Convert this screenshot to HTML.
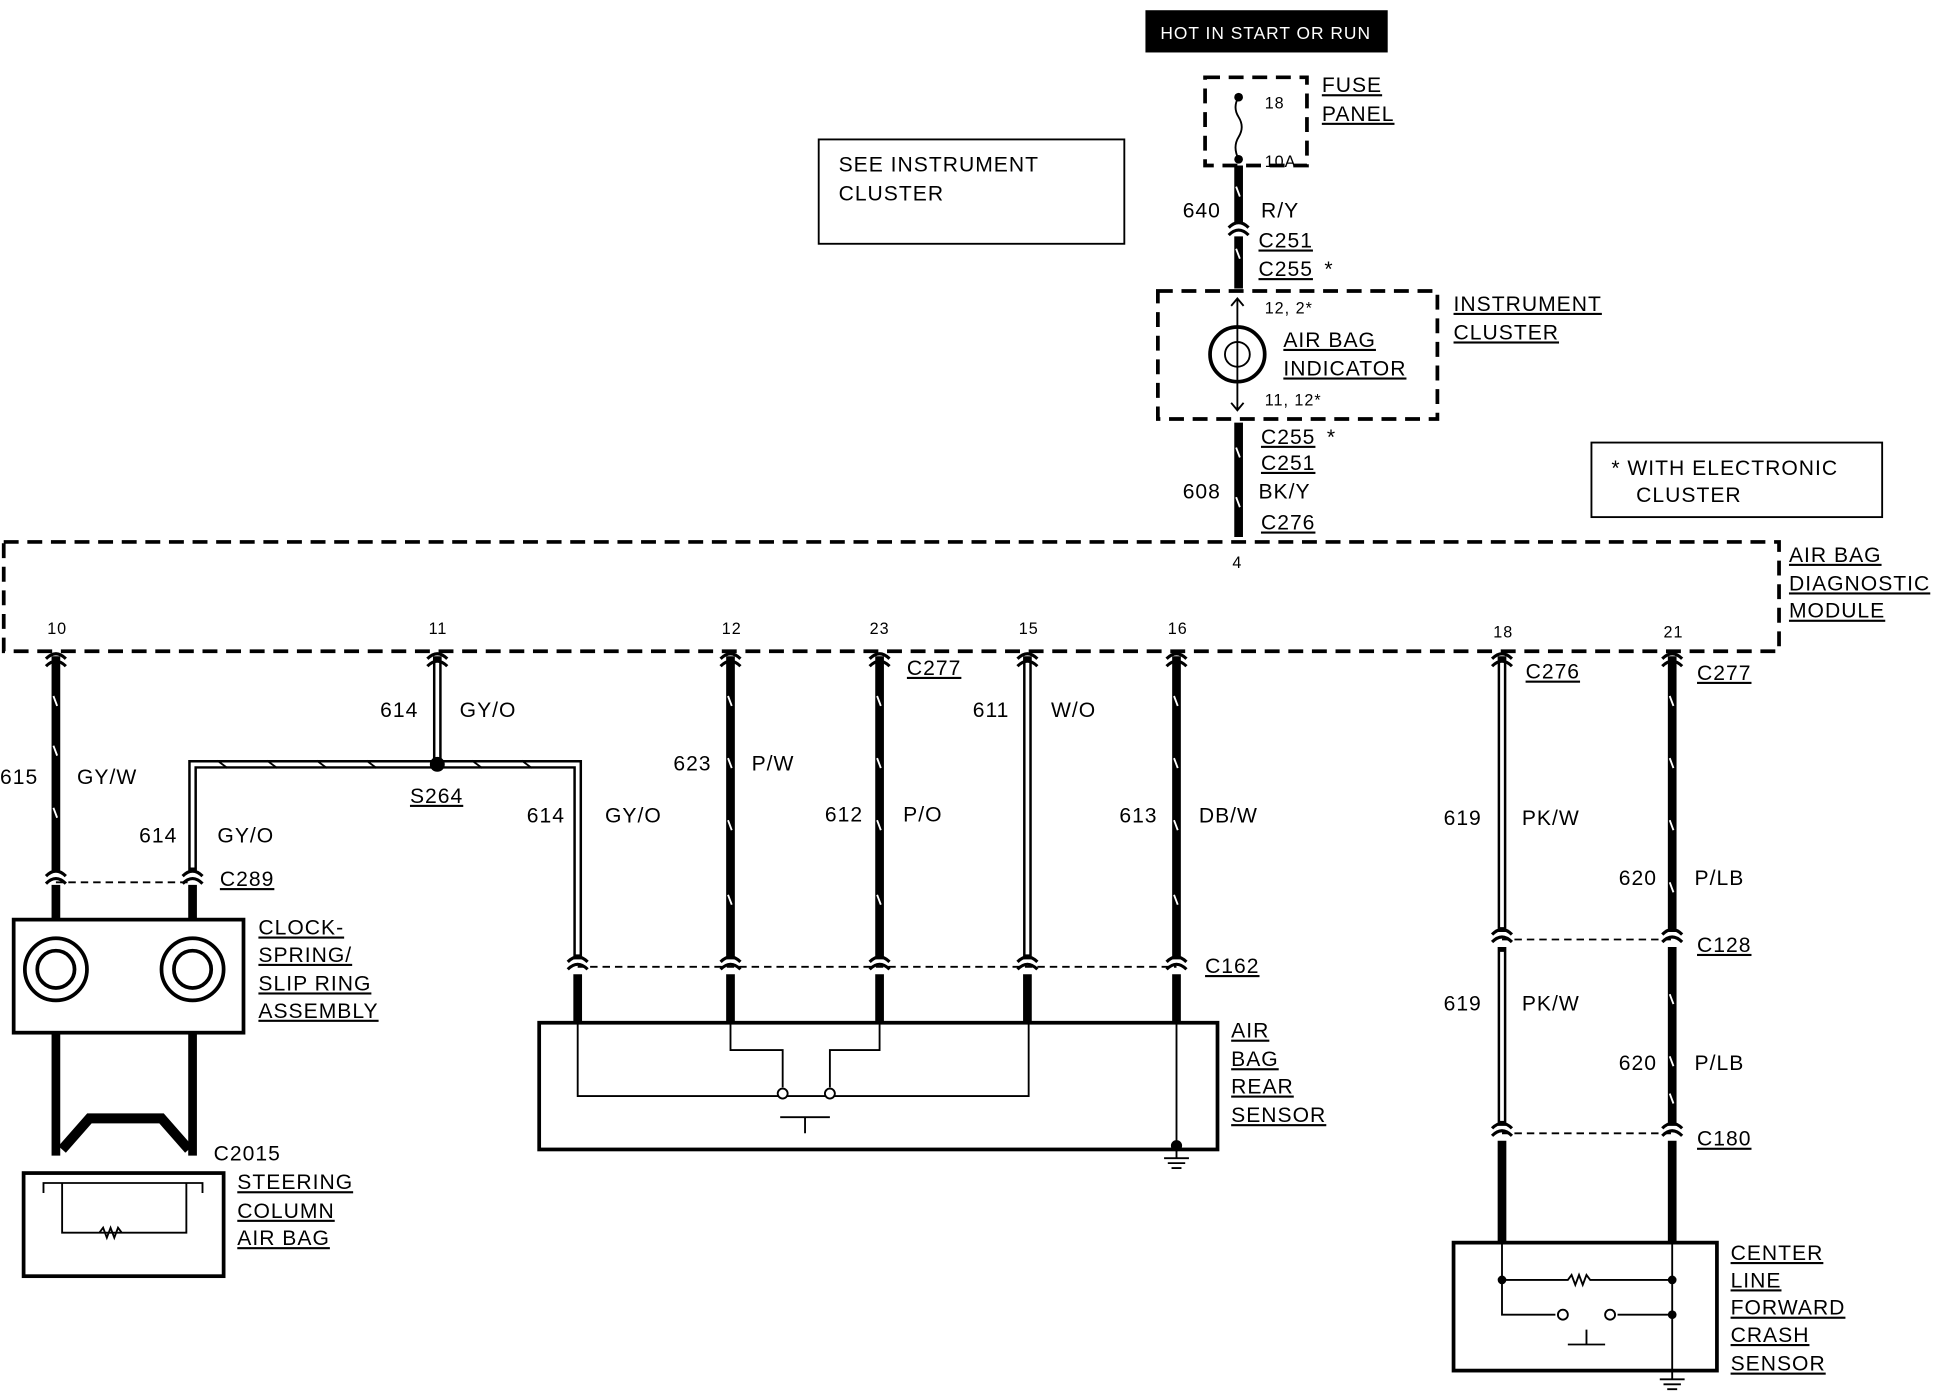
<!DOCTYPE html>
<html><head><meta charset="utf-8"><style>
html,body{margin:0;padding:0;background:#fff;}
svg{display:block;}
text{font-family:"Liberation Sans",sans-serif;font-size:17px;fill:#000;letter-spacing:0.8px;}
.s{font-size:13px;}
.u{text-decoration:underline;}
</style></head><body>
<svg width="1948" height="1392" viewBox="0 0 1568 1120" xmlns="http://www.w3.org/2000/svg">
<defs>
<g id="cx"><path d="M-8,0 Q0,-8 8,0" fill="none" stroke="#000" stroke-width="2.5"/><path d="M-8,6 Q0,-2 8,6" fill="none" stroke="#000" stroke-width="2.5"/></g>
</defs>
<g fill="none" stroke="#000">
<g stroke-width="7">
<line x1="997" y1="133" x2="997" y2="180"/><line x1="997" y1="190" x2="997" y2="232"/>
<line x1="997" y1="340" x2="997" y2="432"/>
<line x1="45" y1="528" x2="45" y2="702"/><line x1="45" y1="712" x2="45" y2="740"/>
<line x1="45" y1="831" x2="45" y2="930"/><line x1="155" y1="831" x2="155" y2="930"/>
<line x1="155" y1="712" x2="155" y2="740"/>
<line x1="588" y1="528" x2="588" y2="772"/><line x1="708" y1="528" x2="708" y2="772"/><line x1="947" y1="528" x2="947" y2="772"/>
<line x1="465" y1="784" x2="465" y2="823"/><line x1="588" y1="784" x2="588" y2="823"/><line x1="708" y1="784" x2="708" y2="823"/><line x1="827" y1="784" x2="827" y2="823"/><line x1="947" y1="784" x2="947" y2="823"/>
<line x1="1346" y1="528" x2="1346" y2="750"/><line x1="1346" y1="762" x2="1346" y2="906"/><line x1="1346" y1="918" x2="1346" y2="1000"/>
<line x1="1209" y1="918" x2="1209" y2="1000"/>
</g>
<g stroke-width="7">
<path d="M352,528 V615 M155,702 V615 H465 V772 M827,528 V772 M1209,528 V750 M1209,762 V906"/>
</g>
<g stroke="#fff" stroke-width="3">
<path d="M352,532 V611 M155,698 V615 H465 V768 M827,532 V768 M1209,532 V746 M1209,766 V902"/>
</g>
<g stroke="#000" stroke-width="1.5">
<path d="M175,612 l8,6 M215,612 l8,6 M255,612 l8,6 M295,612 l8,6 M380,612 l8,6 M420,612 l8,6"/>
</g>
<g stroke="#fff" stroke-width="1.5">
<path d="M995,150 l3,8 M995,200 l3,8 M995,360 l3,8 M995,400 l3,8 M43,560 l3,8 M43,600 l3,8 M43,650 l3,8 M586,560 l3,8 M586,610 l3,8 M586,660 l3,8 M586,720 l3,8 M706,560 l3,8 M706,610 l3,8 M706,660 l3,8 M706,720 l3,8 M945,560 l3,8 M945,610 l3,8 M945,660 l3,8 M945,720 l3,8 M1344,560 l3,8 M1344,610 l3,8 M1344,660 l3,8 M1344,710 l3,8 M1344,800 l3,8 M1344,850 l3,8 M1344,880 l3,8"/>
</g>
<g stroke-width="1.5" stroke-dasharray="6,4">
<line x1="45" y1="710" x2="155" y2="710"/>
<line x1="465" y1="778" x2="947" y2="778"/>
<line x1="1209" y1="756" x2="1346" y2="756"/>
<line x1="1209" y1="912" x2="1346" y2="912"/>
</g>
<g stroke-width="2.5">
<use href="#cx" x="45" y="705"/><use href="#cx" x="155" y="705"/>
<use href="#cx" x="465" y="774"/><use href="#cx" x="588" y="774"/><use href="#cx" x="708" y="774"/><use href="#cx" x="827" y="774"/><use href="#cx" x="947" y="774"/>
<use href="#cx" x="1209" y="752"/><use href="#cx" x="1346" y="752"/><use href="#cx" x="1209" y="908"/><use href="#cx" x="1346" y="908"/>
<use href="#cx" x="997" y="183"/>
<use href="#cx" x="588" y="530"/><use href="#cx" x="708" y="530"/><use href="#cx" x="827" y="530"/><use href="#cx" x="947" y="530"/><use href="#cx" x="1209" y="530"/><use href="#cx" x="1346" y="530"/><use href="#cx" x="45" y="530"/><use href="#cx" x="352" y="530"/>
</g>
<g stroke-width="3" stroke-dasharray="12,7">
<rect x="970" y="62" width="82" height="71"/>
<rect x="932" y="234" width="225" height="103"/>
<rect x="3" y="436" width="1429" height="88"/>
</g>
<path d="M997,78 q-5,8 0,16 q5,8 0,16 q-5,8 0,18" stroke-width="1.5"/>
<circle cx="996" cy="285" r="22" stroke-width="3"/><circle cx="996" cy="285" r="10" stroke-width="1.5"/>
<path d="M996,240 V330 M991,246 l5,-6 5,6 M991,324 l5,6 5,-6" stroke-width="1.5"/>
<rect x="659" y="112" width="246" height="84" stroke-width="1.5"/>
<rect x="1281" y="356" width="234" height="60" stroke-width="1.5"/>
<rect x="11" y="740" width="185" height="91" stroke-width="3"/>
<rect x="19" y="944" width="161" height="83" stroke-width="3"/>
<rect x="434" y="823" width="546" height="102" stroke-width="3"/>
<rect x="1170" y="1000" width="212" height="103" stroke-width="3"/>
<circle cx="45" cy="780" r="25" stroke-width="3"/><circle cx="45" cy="780" r="15" stroke-width="3"/>
<circle cx="155" cy="780" r="25" stroke-width="3"/><circle cx="155" cy="780" r="15" stroke-width="3"/>
<path d="M50,925 L72,900 H130 L152,925" stroke-width="8"/>
<path d="M35,960 V952 H163 V960 M50,952 V992 H150 V952 M80,992 l3,-4 3,8 3,-8 3,8 3,-8 3,4" stroke-width="1.5"/>
<path d="M465,823 V882 H828 V823 M588,823 V845 H630 V875 M708,823 V845 H668 V875 M947,823 V922 M947,922 V932 M937,932 H957 M940,936 H954 M943,940 H951" stroke-width="1.5"/>
<circle cx="630" cy="880" r="4" stroke-width="1.5" fill="#fff"/><circle cx="668" cy="880" r="4" stroke-width="1.5" fill="#fff"/>
<path d="M628,899 H668 M648,899 V912" stroke-width="1.5"/>
<circle cx="947" cy="922" r="4" fill="#000"/>
<path d="M1209,1000 V1058 H1252 M1302,1058 H1346 M1209,1030 H1262 l3,-4 3,8 3,-8 3,8 3,-8 3,4 H1346 M1346,1000 V1110 M1277,1070 V1082 M1262,1082 H1292 M1336,1110 H1356 M1339,1114 H1353 M1342,1118 H1350" stroke-width="1.5"/>
<circle cx="1258" cy="1058" r="4" stroke-width="1.5" fill="#fff"/><circle cx="1296" cy="1058" r="4" stroke-width="1.5" fill="#fff"/>
</g>
<circle cx="997" cy="78" r="3.5"/><circle cx="997" cy="128" r="3.5"/>
<circle cx="1209" cy="1030" r="3.5"/><circle cx="1346" cy="1030" r="3.5"/><circle cx="1346" cy="1058" r="3.5"/>
<circle cx="352" cy="615" r="6"/>
<rect x="922" y="8" width="195" height="34" fill="#000"/>
<text x="934" y="31" style="fill:#fff;font-size:14px">HOT IN START OR RUN</text>
<text class="s" x="1018" y="87">18</text><text class="s" x="1018" y="134">10A</text>
<text class="u" x="1064" y="74">FUSE</text><text class="u" x="1064" y="97">PANEL</text>
<text x="952" y="175">640</text><text x="1015" y="175">R/Y</text>
<text class="u" x="1013" y="199">C251</text><text class="u" x="1013" y="222">C255</text><text x="1066" y="222">*</text>
<text x="675" y="138">SEE INSTRUMENT</text><text x="675" y="161">CLUSTER</text>
<text class="s" x="1018" y="252">12, 2*</text>
<text class="u" x="1033" y="279">AIR BAG</text><text class="u" x="1033" y="302">INDICATOR</text>
<text class="s" x="1018" y="326">11, 12*</text>
<text class="u" x="1170" y="250">INSTRUMENT</text><text class="u" x="1170" y="273">CLUSTER</text>
<text class="u" x="1015" y="357">C255</text><text x="1068" y="357">*</text>
<text class="u" x="1015" y="378">C251</text><text x="1013" y="401">BK/Y</text><text x="952" y="401">608</text>
<text class="u" x="1015" y="426">C276</text>
<text x="1297" y="382">* WITH ELECTRONIC</text><text x="1317" y="404">CLUSTER</text>
<text class="s" x="992" y="457">4</text>
<text class="u" x="1440" y="452">AIR BAG</text><text class="u" x="1440" y="475">DIAGNOSTIC</text><text class="u" x="1440" y="497">MODULE</text>
<text class="s" x="38" y="510">10</text><text class="s" x="345" y="510">11</text><text class="s" x="581" y="510">12</text><text class="s" x="700" y="510">23</text><text class="s" x="820" y="510">15</text><text class="s" x="940" y="510">16</text><text class="s" x="1202" y="513">18</text><text class="s" x="1339" y="513">21</text>
<text x="0" y="631">615</text><text x="62" y="631">GY/W</text>
<text x="306" y="577">614</text><text x="370" y="577">GY/O</text>
<text class="u" x="330" y="646">S264</text>
<text x="112" y="678">614</text><text x="175" y="678">GY/O</text>
<text x="424" y="662">614</text><text x="487" y="662">GY/O</text>
<text class="u" x="177" y="713">C289</text>
<text class="u" x="208" y="752">CLOCK-</text><text class="u" x="208" y="774">SPRING/</text><text class="u" x="208" y="797">SLIP RING</text><text class="u" x="208" y="819">ASSEMBLY</text>
<text x="172" y="934">C2015</text>
<text class="u" x="191" y="957">STEERING</text><text class="u" x="191" y="980">COLUMN</text><text class="u" x="191" y="1002">AIR BAG</text>
<text class="u" x="730" y="543">C277</text>
<text x="542" y="620">623</text><text x="605" y="620">P/W</text>
<text x="664" y="661">612</text><text x="727" y="661">P/O</text>
<text x="783" y="577">611</text><text x="846" y="577">W/O</text>
<text x="901" y="662">613</text><text x="965" y="662">DB/W</text>
<text class="u" x="970" y="783">C162</text>
<text class="u" x="991" y="835">AIR</text><text class="u" x="991" y="858">BAG</text><text class="u" x="991" y="880">REAR</text><text class="u" x="991" y="903">SENSOR</text>
<text class="u" x="1228" y="546">C276</text><text class="u" x="1366" y="547">C277</text>
<text x="1162" y="664">619</text><text x="1225" y="664">PK/W</text>
<text x="1303" y="712">620</text><text x="1364" y="712">P/LB</text>
<text class="u" x="1366" y="766">C128</text>
<text x="1162" y="813">619</text><text x="1225" y="813">PK/W</text>
<text x="1303" y="861">620</text><text x="1364" y="861">P/LB</text>
<text class="u" x="1366" y="922">C180</text>
<text class="u" x="1393" y="1014">CENTER</text><text class="u" x="1393" y="1036">LINE</text><text class="u" x="1393" y="1058">FORWARD</text><text class="u" x="1393" y="1080">CRASH</text><text class="u" x="1393" y="1103">SENSOR</text>
</svg>
</body></html>
